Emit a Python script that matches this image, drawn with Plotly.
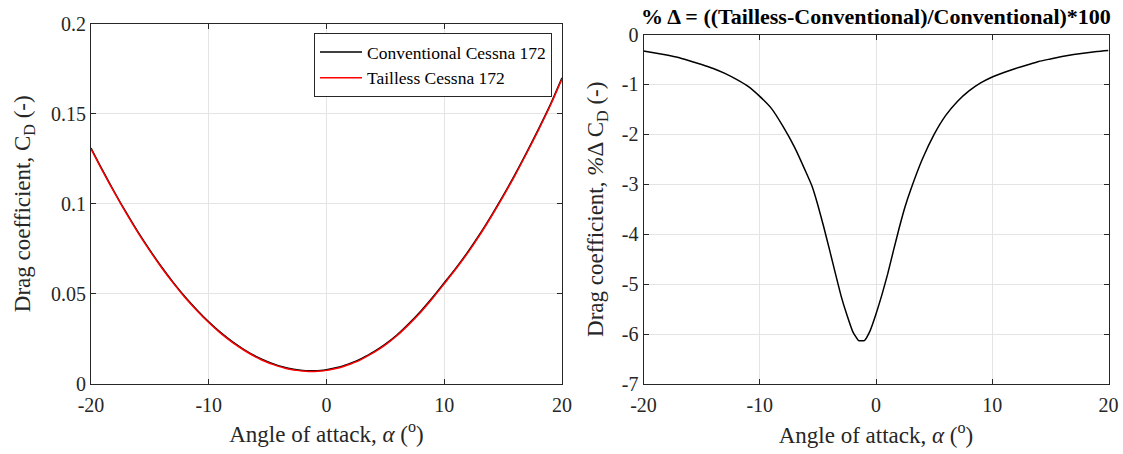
import plotly.graph_objects as go

# Angle of attack (deg); finer spacing around the drag bucket
alpha = [-20, -19, -18, -17, -16, -15, -14, -13, -12, -11, -10, -9, -8, -7, -6,
         -5.5, -5, -4.5, -4, -3.5, -3, -2.5, -2, -1.5, -1, -0.5, 0, 0.5, 1, 1.5, 2, 2.5, 3,
         4, 5, 6, 7, 8, 9, 10, 11, 12, 13, 14, 15, 16, 17, 18, 19, 20]

cd_conventional = [0.1310, 0.1184, 0.1064, 0.0950, 0.0842, 0.0742, 0.0648, 0.0561, 0.0481, 0.0409,
                   0.0343, 0.0284, 0.0233, 0.0189, 0.0151,
                   0.0135, 0.0121, 0.0109, 0.0098, 0.0089, 0.0082, 0.0077, 0.0073, 0.0071, 0.0071,
                   0.0073, 0.0077, 0.0083, 0.0090, 0.0100, 0.0111, 0.0124, 0.0140,
                   0.0176, 0.0219, 0.0271, 0.0333, 0.0402, 0.0478, 0.0560, 0.0643, 0.0732, 0.0829,
                   0.0934, 0.1045, 0.1162, 0.1286, 0.1415, 0.1550, 0.1700]

cd_tailless = [0.1306, 0.1180, 0.1060, 0.0946, 0.0838, 0.0738, 0.0644, 0.0557, 0.0477, 0.0405,
               0.0339, 0.0280, 0.0229, 0.0185, 0.0147,
               0.0131, 0.0117, 0.0105, 0.0094, 0.0085, 0.0078, 0.0073, 0.0069, 0.0067, 0.0067,
               0.0069, 0.0073, 0.0079, 0.0086, 0.0096, 0.0107, 0.0120, 0.0136,
               0.0172, 0.0215, 0.0267, 0.0329, 0.0397, 0.0473, 0.0555, 0.0638, 0.0727, 0.0824,
               0.0929, 0.1040, 0.1157, 0.1281, 0.1410, 0.1545, 0.1695]

delta_pct = [-0.33, -0.37, -0.41, -0.46, -0.53, -0.60, -0.68, -0.78, -0.90, -1.04,
             -1.24, -1.48, -1.84, -2.26, -2.77,
             -3.04, -3.42, -3.85, -4.31, -4.78, -5.24, -5.62, -5.95, -6.13, -6.13,
             -5.93, -5.60, -5.22, -4.80, -4.33, -3.87, -3.45, -3.10,
             -2.49, -2.00, -1.62, -1.34, -1.13, -0.97, -0.85, -0.76, -0.68, -0.61,
             -0.54, -0.49, -0.44, -0.40, -0.37, -0.34, -0.32]

x_ticks = [-20, -10, 0, 10, 20]
x_tick_labels = ["-20", "-10", "0", "10", "20"]
cd_ticks = [0, 0.05, 0.1, 0.15, 0.2]
cd_tick_labels = ["0", "0.05", "0.1", "0.15", "0.2"]
delta_ticks = [0, -1, -2, -3, -4, -5, -6, -7]
delta_tick_labels = ["0", "-1", "-2", "-3", "-4", "-5", "-6", "-7"]

FONT = "Liberation Serif, Times New Roman, serif"
INK = "#262626"
W, H = 1123, 454

fig = go.Figure()
fig.add_trace(go.Scatter(x=alpha, y=cd_conventional, mode="lines", name="Conventional Cessna 172",
                         line=dict(color="black", width=1.5, shape="spline", smoothing=0.8),
                         xaxis="x", yaxis="y"))
fig.add_trace(go.Scatter(x=alpha, y=cd_tailless, mode="lines", name="Tailless Cessna 172",
                         line=dict(color="red", width=1.5, shape="spline", smoothing=0.8),
                         xaxis="x", yaxis="y"))
fig.add_trace(go.Scatter(x=alpha, y=delta_pct, mode="lines", showlegend=False,
                         line=dict(color="black", width=1.5, shape="spline", smoothing=0.4),
                         xaxis="x2", yaxis="y2"))

def axis_style(**kw):
    d = dict(showline=True, linecolor=INK, linewidth=1, mirror="allticks",
             ticks="inside", ticklen=5, tickcolor=INK, tickwidth=1,
             showgrid=True, gridcolor="#e4e4e4", gridwidth=1, zeroline=False,
             automargin=False,
             tickfont=dict(family=FONT, size=20, color=INK),
             title_font=dict(family=FONT, size=23, color=INK))
    d.update(kw)
    return d

# pixel boxes of the two panels
L = (91, 562, 24, 383.5)
R = (643.5, 1108.5, 34.5, 384)

fig.update_layout(
    width=W, height=H,
    margin=dict(l=0, r=0, t=0, b=0, autoexpand=False),
    paper_bgcolor="white", plot_bgcolor="white",
    font=dict(family=FONT, color=INK),
    xaxis=axis_style(domain=[L[0] / W, L[1] / W], range=[-20, 20],
                     tickvals=x_ticks, ticktext=x_tick_labels, anchor="y", ticklabelstandoff=3,
                     title=dict(text="Angle of attack, <i>α</i> (<sup>o</sup>)", standoff=11)),
    yaxis=axis_style(domain=[1 - L[3] / H, 1 - L[2] / H], range=[0, 0.2],
                     tickvals=cd_ticks, ticktext=cd_tick_labels, anchor="x",
                     title=dict(text="Drag coefficient, C<sub>D</sub> (-)", standoff=13)),
    xaxis2=axis_style(domain=[R[0] / W, R[1] / W], range=[-20, 20],
                      tickvals=x_ticks, ticktext=x_tick_labels, anchor="y2", ticklabelstandoff=3,
                      title=dict(text="Angle of attack, <i>α</i> (<sup>o</sup>)", standoff=11)),
    yaxis2=axis_style(domain=[1 - R[3] / H, 1 - R[2] / H], range=[-7, 0],
                      tickvals=delta_ticks, ticktext=delta_tick_labels, anchor="x2",
                      title=dict(text="Drag coefficient, <i>%</i>Δ C<sub>D</sub> (-)", standoff=11)),
    legend=dict(x=314 / W, y=1 - 33 / H, xanchor="left", yanchor="top",
                bgcolor="white", bordercolor=INK, borderwidth=1, itemwidth=42,
                font=dict(family=FONT, size=17.5, color="black"), tracegroupgap=0),
    annotations=[dict(text="<b>% Δ = ((Tailless-Conventional)/Conventional)*100</b>",
                      x=(R[0] + R[1]) / 2 / W, y=1 - 17 / H, xref="paper", yref="paper",
                      xanchor="center", yanchor="middle", showarrow=False,
                      font=dict(family=FONT, size=22, color="black"))],
)

fig.write_html("out.html")
